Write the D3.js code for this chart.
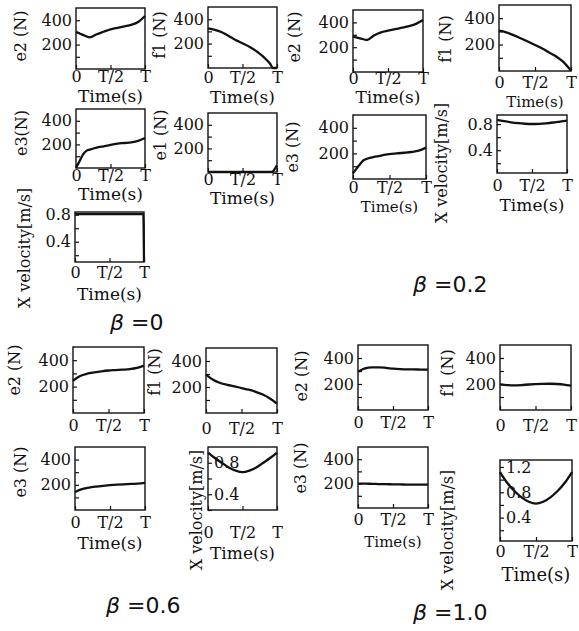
<!DOCTYPE html>
<html>
<head>
<meta charset="utf-8">
<script src="https://cdn.jsdelivr.net/npm/d3@7"></script>
<style>
body { margin: 0; background: #fff; }
svg text { fill: #111; }
</style>
</head>
<body>
<div id="vis"></div>
<script>
const WIDTH = 579;
const HEIGHT = 631;

// time as a fraction of T
const tGrid = [0, 0.1, 0.2, 0.3, 0.4, 0.5, 0.6, 0.7, 0.8, 0.9, 1];
const tFine = [0, 0.05, 0.1, 0.15, 0.2, 0.3, 0.4, 0.5, 0.6, 0.7, 0.8, 0.9, 1];
const tF1b0 = [0, 0.1, 0.2, 0.3, 0.4, 0.5, 0.6, 0.7, 0.8, 0.9, 0.94, 1];
const tE1b0 = [0, 0.5, 0.92, 1];
const tVxb0 = [0, 0.5, 0.99, 1];

// beta = 0
const e2_b0 = [306, 280, 260, 285, 305, 325, 338, 350, 362, 385, 434];
const f1_b0 = [325, 312, 293, 262, 230, 203, 175, 138, 93, 35, 0, 0];
const e3_b0 = [0, 56, 113, 145, 155, 172, 184, 196, 206, 212, 218, 230, 254];
const e1_b0 = [0, 0, 0, 56];
const vx_b0 = [0.81, 0.81, 0.81, 0.1];

// beta = 0.2
const e2_b02 = [285, 272, 258, 295, 320, 333, 345, 357, 370, 388, 419];
const f1_b02 = [305, 293, 272, 248, 223, 197, 170, 139, 108, 65, 2];
const e3_b02 = [44, 83, 120, 148, 160, 174, 185, 195, 200, 205, 211, 221, 245];
const vx_b02 = [0.864, 0.845, 0.828, 0.815, 0.806, 0.802, 0.805, 0.813, 0.825, 0.84, 0.855];

// beta = 0.6
const e2_b06 = [244, 280, 298, 308, 316, 322, 325, 328, 332, 341, 359];
const f1_b06 = [295, 255, 231, 217, 205, 192, 179, 163, 142, 112, 72];
const e3_b06 = [143, 165, 178, 186, 192, 197, 201, 204, 207, 210, 215];
const vx_b06 = [0.93, 0.86, 0.8, 0.74, 0.7, 0.68, 0.7, 0.74, 0.8, 0.86, 0.93];

// beta = 1.0
const e2_b10 = [295, 320, 328, 328, 324, 318, 314, 312, 312, 311, 311];
const f1_b10 = [198, 192, 190, 192, 196, 199, 201, 202, 200, 196, 188];
const e3_b10 = [200, 200, 198, 196, 195, 194, 193, 192, 192, 191, 191];
const vx_b10 = [1.12, 0.95, 0.82, 0.72, 0.65, 0.62, 0.65, 0.72, 0.82, 0.95, 1.12];

// ticks
const forceDomain = [0, 500];
const forceTicks = [100, 200, 300, 400];
const forceLabels = [200, 400];
const velTicks = [0.2, 0.4, 0.6, 0.8];
const velLabels = [0.4, 0.8];
const velTicks10 = [0.2, 0.4, 0.6, 0.8, 1.0, 1.2];
const velLabels10 = [0.4, 0.8, 1.2];
const timeTicks = [0, 0.5, 1];
const timeLabels = ["0", "T/2", "T"];

const betaText = ["0", "0.2", "0.6", "1.0"];

const FONT = "'DejaVu Serif', 'Liberation Serif', serif";
const FS = 16;

const svg = d3.select("#vis").append("svg")
    .attr("width", WIDTH)
    .attr("height", HEIGHT);

const F = {dom: forceDomain, yt: forceTicks, yl: forceLabels, fmt: d => d};
const V = {yt: velTicks, yl: velLabels, fmt: d3.format(".1f")};

const panels = [
  {t: tGrid, v: e2_b0, ...F, x0: 76, x1: 145, y0: 8, y1: 69, title: "e2 (N)", tx: 20, ty: 36, xlb: 82, tb: 102},
  {t: tF1b0, v: f1_b0, ...F, x0: 208, x1: 277, y0: 7, y1: 68, title: "f1 (N)", tx: 159, ty: 35, xlb: 83, tb: 103},
  {t: tGrid, v: e2_b02, ...F, x0: 353, x1: 423, y0: 10, y1: 72, title: "e2 (N)", tx: 294, ty: 37, xlb: 84, tb: 103},
  {t: tGrid, v: f1_b02, ...F, x0: 499, x1: 571, y0: 5, y1: 71, title: "f1 (N)", tx: 445, ty: 39, xlb: 88, tb: 107, tfs: 15},
  {t: tFine, v: e3_b0, ...F, x0: 76, x1: 145, y0: 109, y1: 168, title: "e3(N)", tx: 21, ty: 133, xlb: 181, tb: 200},
  {t: tE1b0, v: e1_b0, ...F, x0: 208, x1: 277, y0: 113, y1: 172, title: "e1 (N)", tx: 160, ty: 135, xlb: 185, tb: 204},
  {t: tFine, v: e3_b02, ...F, x0: 353, x1: 426, y0: 115, y1: 179, title: "e3 (N)", tx: 292, ty: 147, xlb: 193, tb: 212, tfs: 15},
  {t: tGrid, v: vx_b02, ...V, dom: [0.05, 0.94], x0: 497, x1: 567, y0: 115, y1: 173, title: "X velocity[m/s]", tx: 441, ty: 163, xlb: 191, tb: 211},
  {t: tVxb0, v: vx_b0, ...V, dom: [0.1, 0.84], x0: 75, x1: 144, y0: 212, y1: 262, title: "X velocity[m/s]", tx: 24, ty: 248, xlb: 278, tb: 300},
  {t: tGrid, v: e2_b06, ...F, x0: 73, x1: 144, y0: 347, y1: 413, title: "e2 (N)", tx: 14, ty: 370, xlb: 431},
  {t: tGrid, v: f1_b06, ...F, x0: 206, x1: 277, y0: 348, y1: 413, title: "f1 (N)", tx: 154, ty: 372, xlb: 434},
  {t: tGrid, v: e2_b10, ...F, x0: 358, x1: 428, y0: 345, y1: 410, title: "e2 (N)", tx: 301, ty: 376, xlb: 428},
  {t: tGrid, v: f1_b10, ...F, x0: 500, x1: 571, y0: 345, y1: 410, title: "f1 (N)", tx: 447, ty: 373, xlb: 431},
  {t: tGrid, v: e3_b06, ...F, x0: 75, x1: 145, y0: 447, y1: 510, title: "e3 (N)", tx: 20, ty: 472, xlb: 528, tb: 549},
  {t: tGrid, v: vx_b06, ...V, dom: [0.2, 1.0], inside: true, x0: 208, x1: 277, y0: 447, y1: 510, title: "X velocity[m/s]", tx: 196, ty: 510, xlb: 538, tb: 559},
  {t: tGrid, v: e3_b10, ...F, x0: 358, x1: 428, y0: 447, y1: 508, title: "e3 (N)", tx: 300, ty: 468, xlb: 525, tb: 547, tfs: 15},
  {t: tGrid, v: vx_b10, ...V, yt: velTicks10, yl: velLabels10, dom: [0.03, 1.31], inside: true, x0: 500, x1: 572, y0: 460, y1: 541, title: "X velocity[m/s]", tx: 447, ty: 530, xlb: 557, tb: 581, tfs: 18}
];

function styleAxis(g) {
  g.select(".domain").remove();
  g.attr("font-family", FONT).attr("font-size", FS);
  g.selectAll(".tick line").attr("stroke", "#111").attr("stroke-width", 1.2);
  g.selectAll(".tick text").attr("fill", "#111");
}

panels.forEach(p => {
  const x = d3.scaleLinear().domain([0, 1]).range([p.x0, p.x1]);
  const y = d3.scaleLinear().domain(p.dom).range([p.y1, p.y0]);
  const g = svg.append("g");

  g.append("rect")
      .attr("x", p.x0).attr("y", p.y0)
      .attr("width", p.x1 - p.x0).attr("height", p.y1 - p.y0)
      .attr("fill", "#fff")
      .attr("stroke", "#111")
      .attr("stroke-width", 1.4);

  // left axis, ticks pointing inward
  const ya = g.append("g")
      .attr("transform", "translate(" + p.x0 + ",0)")
      .call(d3.axisLeft(y).tickValues(p.yt).tickSize(-4).tickPadding(4)
          .tickFormat(d => p.yl.includes(d) ? p.fmt(d) : ""))
      .call(styleAxis);
  if (p.inside) {
    ya.selectAll(".tick text").attr("text-anchor", "start").attr("x", 6);
  }

  // bottom axis
  const pad = p.xlb - p.y1 - 0.71 * FS;
  g.append("g")
      .attr("transform", "translate(0," + p.y1 + ")")
      .call(d3.axisBottom(x).tickValues(timeTicks).tickSize(-4).tickPadding(pad)
          .tickFormat((d, i) => timeLabels[i]))
      .call(styleAxis);

  const line = d3.line()
      .x(d => x(d[0]))
      .y(d => y(d[1]))
      .curve(d3.curveMonotoneX);

  g.append("path")
      .datum(d3.zip(p.t, p.v))
      .attr("d", line)
      .attr("fill", "none")
      .attr("stroke", "#111")
      .attr("stroke-width", 2.3);

  g.append("text")
      .attr("transform", "translate(" + p.tx + "," + p.ty + ") rotate(-90)")
      .attr("text-anchor", "middle")
      .attr("dy", "0.35em")
      .attr("font-family", FONT)
      .attr("font-size", 16)
      .text(p.title);

  if (p.tb) {
    g.append("text")
        .attr("x", (p.x0 + p.x1) / 2)
        .attr("y", p.tb)
        .attr("text-anchor", "middle")
        .attr("font-family", FONT)
        .attr("font-size", p.tfs || 17)
        .text("Time(s)");
  }
});

// beta captions
const betaPos = [[110, 330], [413, 292], [106, 613], [413, 620]];
betaText.forEach((b, i) => {
  const t = svg.append("text")
      .attr("x", betaPos[i][0])
      .attr("y", betaPos[i][1])
      .attr("font-family", "'DejaVu Sans', sans-serif")
      .attr("font-size", 22);
  t.append("tspan").attr("font-style", "italic").text("\u03B2");
  t.append("tspan").text(" =" + b);
});
</script>
</body>
</html>
